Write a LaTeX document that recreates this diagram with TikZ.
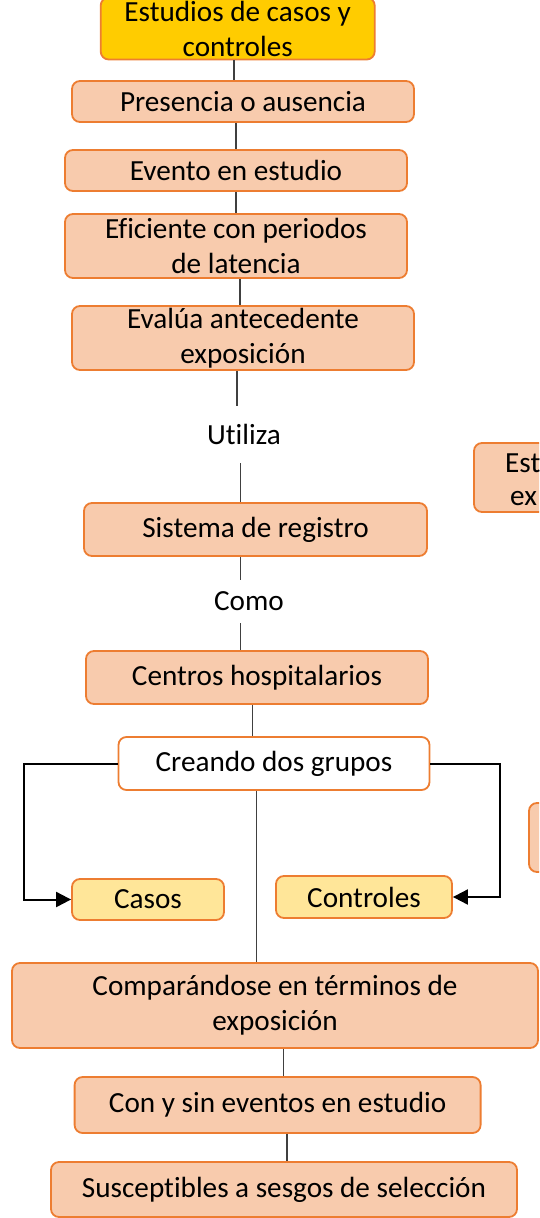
\documentclass[tikz,border=0pt]{standalone}
\usepackage{fontspec}
\setmainfont{Carlito}[Ligatures={NoCommon,NoRare}]
\usetikzlibrary{arrows.meta}
\definecolor{peach}{HTML}{F8CBAD}
\definecolor{orangeb}{HTML}{ED7D31}
\definecolor{gold}{HTML}{FFCC00}
\definecolor{lightyel}{HTML}{FFE699}
\definecolor{conn}{HTML}{404040}
\tikzset{
  pbox/.style={draw=orangeb, line width=1.8pt, fill=peach, rounded corners=8pt,
    inner sep=0pt, align=center, font=\fontsize{29.2}{35}\selectfont},
  ybox/.style={pbox, fill=lightyel},
  gbox/.style={pbox, fill=gold},
  wbox/.style={pbox, fill=white},
  lbl/.style={inner sep=0pt, font=\fontsize{29.2}{35}\selectfont},
  conline/.style={draw=conn, line width=1.2pt},
  elbow/.style={draw=black, line width=2pt, -{Triangle[length=15pt,width=15pt]}}
}
\begin{document}
\begin{tikzpicture}[x=1pt,y=-1pt]
\useasboundingbox (0,0) rectangle (539,1218);
\clip (0,0) rectangle (539,1218);

\node[gbox, minimum width=274pt, minimum height=62pt] (top) at (237.7,28.5) {Estudios de casos y\\controles};
\node[pbox, minimum width=342pt, minimum height=41pt] (pres) at (243,101.5) {Presencia o ausencia};
\node[pbox, minimum width=342pt, minimum height=41pt] (evento) at (236,170.5) {Evento en estudio};
\node[pbox, minimum width=342pt, minimum height=64pt] (efic) at (236,246) {Eficiente con periodos\\de latencia};
\node[pbox, minimum width=342pt, minimum height=64pt] (evalua) at (243,338) {Evalúa antecedente\\exposición};
\node[lbl, minimum height=57pt] (utiliza) at (244,434.5) {Utiliza};
\node[pbox, minimum width=343pt, minimum height=53pt] (sistema) at (255.5,529.5) {Sistema de registro};
\node[lbl, minimum height=43pt] (como) at (249,601.5) {Como};
\node[pbox, minimum width=342pt, minimum height=53pt] (centros) at (257,677.5) {Centros hospitalarios};
\node[wbox, minimum width=311pt, minimum height=53pt] (creando) at (274,763.5) {Creando dos grupos};
\node[ybox, minimum width=152pt, minimum height=41pt] (casos) at (148,899.5) {Casos};
\node[ybox, minimum width=176pt, minimum height=42pt] (controles) at (364,897) {Controles};
\node[pbox, minimum width=526pt, minimum height=85pt] (comp) at (275,1005.5) {Comparándose en términos de\\exposición};
\node[pbox, minimum width=406pt, minimum height=56pt] (con) at (277.6,1105) {Con y sin eventos en estudio};
\node[pbox, minimum width=466pt, minimum height=55pt] (susc) at (284,1189.5) {Susceptibles a sesgos de selección};

% partially visible boxes at the right edge
\node[pbox, minimum width=226pt, minimum height=69pt] (estbox) at (587,477.5) {};
\node[lbl, anchor=base west] (est1) at (505,472) {Est};
\node[lbl, anchor=base west] (est2) at (510,505) {ex};
\node[pbox, minimum width=226pt, minimum height=69pt] (rbox) at (642,837.5) {};

% connectors
\draw[conline] (top.south -| 234,0) -- (pres.north -| 234,0);
\draw[conline] (pres.south -| 236,0) -- (evento.north -| 236,0);
\draw[conline] (evento.south -| 236,0) -- (efic.north -| 236,0);
\draw[conline] (efic.south -| 240,0) -- (evalua.north -| 240,0);
\draw[conline] (evalua.south -| 237,0) -- (utiliza.north -| 237,0);
\draw[conline] (utiliza.south -| 240.6,0) -- (sistema.north -| 240.6,0);
\draw[conline] (sistema.south -| 240.6,0) -- (como.north -| 240.6,0);
\draw[conline] (como.south -| 240.6,0) -- (centros.north -| 240.6,0);
\draw[conline] (centros.south -| 252.7,0) -- (creando.north -| 252.7,0);
\draw[conline] (creando.south -| 256.8,0) -- (comp.north -| 256.8,0);
\draw[conline] (comp.south -| 283.6,0) -- (con.north -| 283.6,0);
\draw[conline] (con.south -| 287,0) -- (susc.north -| 287,0);

% elbow arrows
\coordinate (lx) at (24,763.5);
\coordinate (rx) at (499.5,763.5);
\draw[elbow] (creando.west) -- (lx) |- (casos.west);
\draw[elbow] (creando.east) -- (rx) |- (controles.east);
\end{tikzpicture}
\end{document}
